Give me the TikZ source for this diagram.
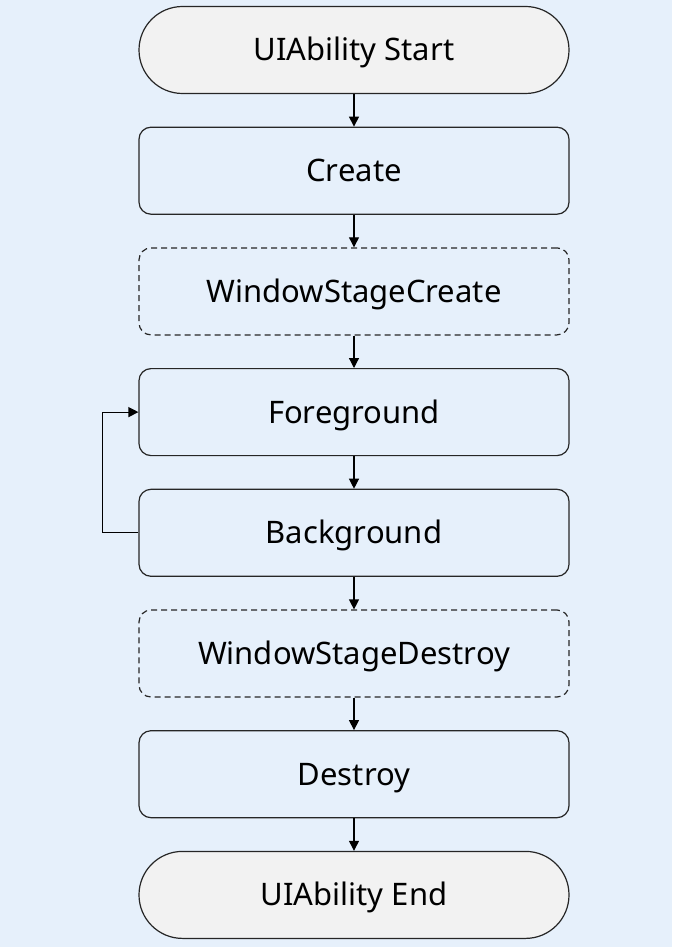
\documentclass[tikz,border=0pt]{standalone}
\usepackage{fontspec}
\setmainfont{Noto Sans}
\usetikzlibrary{positioning,arrows.meta}
\definecolor{fondo}{HTML}{E6F0FB}
\definecolor{gris}{HTML}{F2F2F2}
\begin{document}
\begin{tikzpicture}[x=1pt,y=1pt,
    estado/.style={draw=black!85,line width=1.2pt,rounded corners=12pt,fill=fondo,
        minimum width=430pt,minimum height=87pt,text height=22pt,text depth=0pt,
        font=\fontsize{31}{37}\selectfont},
    opcional/.style={estado,dashed,dash pattern=on 6pt off 4pt},
    extremo/.style={estado,rounded corners=43.5pt,fill=gris},
    flecha/.style={line width=1.2pt,-{Triangle[length=10pt,width=10pt]}}]
    % fondo
    \fill[fondo] (0,0) rectangle (672,-947);
    \useasboundingbox (0,0) rectangle (672,-947);

    % estados
    \node[extremo] (inicio) at (354,-50) {UIAbility Start};
    \node[estado,below=32.5pt of inicio] (create) {Create};
    \node[opcional,below=32.5pt of create] (wscreate) {WindowStageCreate};
    \node[estado,below=32.5pt of wscreate] (fore) {Foreground};
    \node[estado,below=32.5pt of fore] (back) {Background};
    \node[opcional,below=32.5pt of back] (wsdestroy) {WindowStageDestroy};
    \node[estado,below=32.5pt of wsdestroy] (destroy) {Destroy};
    \node[extremo,below=32.5pt of destroy] (fin) {UIAbility End};

    \draw[flecha] (inicio) -- (create);
    \draw[flecha] (create) -- (wscreate);
    \draw[flecha] (wscreate) -- (fore);
    \draw[flecha] (fore) -- (back);
    \draw[flecha] (back) -- (wsdestroy);
    \draw[flecha] (wsdestroy) -- (destroy);
    \draw[flecha] (destroy) -- (fin);

    % vuelta a primer plano
    \draw[flecha] (back.west) -- ++(-36,0) |- (fore.west);
\end{tikzpicture}
\end{document}
